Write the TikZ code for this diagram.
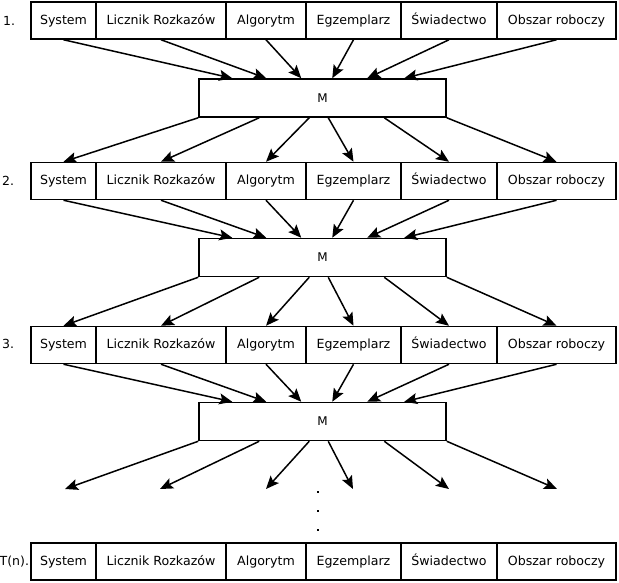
\documentclass[tikz,border=0pt]{standalone}
\usepackage{fontspec}
\setmainfont{DejaVu Sans}
\usetikzlibrary{arrows.meta}
\begin{document}
\begin{tikzpicture}[x=1pt,y=-1pt,
  cell/.style={draw,line width=1.5pt,minimum height=37pt,inner sep=0pt,text height=9.5pt,text depth=2.5pt,font=\fontsize{12.6}{13}\selectfont},
  mbox/.style={draw,line width=1.5pt,minimum width=247pt,minimum height=38pt,inner sep=0pt,font=\fontsize{12}{13}\selectfont},
  rowlab/.style={anchor=west,inner sep=2pt,font=\fontsize{12.5}{13}\selectfont},
  arr/.style={line width=1.5pt,-{Stealth[length=13pt,width=11pt,inset=2.5pt]}}]
\useasboundingbox (0,0) rectangle (619,582);
% rows of boxes
\foreach \r/\y in {1/20.5,2/181,3/345,4/561.5}{
  \node[cell,minimum width=65pt]  (sys\r) at (63.5,\y) {System};
  \node[cell,minimum width=130pt] (lr\r)  at (161,\y)  {Licznik Rozkazów};
  \node[cell,minimum width=80pt]  (alg\r) at (266,\y)  {Algorytm};
  \node[cell,minimum width=95pt]  (egz\r) at (353.5,\y) {Egzemplarz};
  \node[cell,minimum width=96pt]  (sw\r)  at (449,\y)  {Świadectwo};
  \node[cell,minimum width=119pt] (obs\r) at (556.5,\y) {Obszar roboczy};
}
\node[rowlab] (l1) at (1,20.5) {1.};
\node[rowlab] (l2) at (0,181) {2.};
\node[rowlab] (l3) at (0,344) {3.};
\node[rowlab,inner sep=0pt] (l4) at (-0.5,561.5) {T(n).};
% M boxes
\node[mbox] (M1) at (322.5,98) {M};
\node[mbox] (M2) at (322.5,257.5) {M};
\node[mbox] (M3) at (322.5,421.5) {M};
% arrows into M
\foreach \r in {1,2,3}{
  \draw[arr] (sys\r.south) -- ([xshift=34pt]M\r.north west);
  \draw[arr] (lr\r.south)  -- ([xshift=68pt]M\r.north west);
  \draw[arr] (alg\r.south) -- ([xshift=103pt]M\r.north west);
  \draw[arr] (egz\r.south) -- ([xshift=134pt]M\r.north west);
  \draw[arr] (sw\r.south)  -- ([xshift=169pt]M\r.north west);
  \draw[arr] (obs\r.south) -- ([xshift=206pt]M\r.north west);
}
% arrows out of M
\foreach \r/\n in {1/2,2/3}{
  \draw[arr] (M\r.south west) -- (sys\n.north);
  \draw[arr] ([xshift=61pt]M\r.south west) -- (lr\n.north);
  \draw[arr] ([xshift=111pt]M\r.south west) -- (alg\n.north);
  \draw[arr] ([xshift=130pt]M\r.south west) -- (egz\n.north);
  \draw[arr] ([xshift=186pt]M\r.south west) -- (sw\n.north);
  \draw[arr] (M\r.south east) -- (obs\n.north);
}
\coordinate (e1) at (65,489);
\coordinate (e2) at (160,489);
\coordinate (e3) at (266,489);
\coordinate (e4) at (353,489);
\coordinate (e5) at (449,489);
\coordinate (e6) at (557,489);
\draw[arr] (M3.south west) -- (e1);
\draw[arr] ([xshift=61pt]M3.south west) -- (e2);
\draw[arr] ([xshift=111pt]M3.south west) -- (e3);
\draw[arr] ([xshift=130pt]M3.south west) -- (e4);
\draw[arr] ([xshift=186pt]M3.south west) -- (e5);
\draw[arr] (M3.south east) -- (e6);
% dots
\foreach \yy/\nm in {492/d1,511/d2,530/d3}{
  \node[fill,inner sep=0pt,minimum size=2.8pt] (\nm) at (318,\yy) {};
}
\end{tikzpicture}
\end{document}
